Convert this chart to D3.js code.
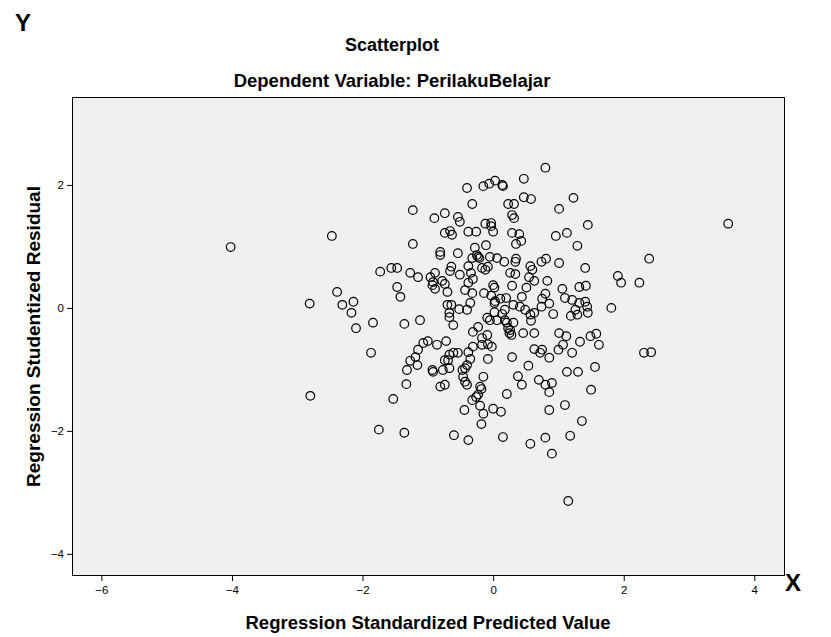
<!DOCTYPE html>
<html>
<head>
<meta charset="utf-8">
<script src="https://cdn.jsdelivr.net/npm/d3@7"></script>
<style>
  html, body { margin: 0; padding: 0; background: #fff; }
  svg { display: block; font-family: Arial, "Liberation Sans", sans-serif; }
</style>
</head>
<body>
<svg id="chart" width="831" height="637"></svg>
<script>
// Regression Standardized Predicted Value (x) and Studentized Residual (y)
const predicted = [
  -1.23,-0.90,-2.47,-1.23,
  -0.40,-0.15,-0.06,0.03,0.14,0.15,0.47,-0.32,0.23,0.32,0.47,0.58,-0.74,-0.54,-0.51,-0.74,
  -0.66,-0.63,-0.38,-0.26,-0.12,-0.03,-0.03,0.00,0.29,0.32,0.29,0.40,0.43,0.35,-0.11,-0.28,
  -0.81,-0.81,-0.54,-0.25,-0.23,-0.21,-0.32,-0.05,0.06,0.17,0.34,0.35,0.57,0.60,0.74,-0.64,
  -0.38,-0.17,-0.08,-0.12,
  0.80,1.23,1.01,1.45,0.96,1.13,1.29,0.81,1.01,1.41,2.39,
  -0.78,-0.74,-0.70,-0.66,-0.51,-0.34,-0.31,-0.38,-0.43,-0.32,-0.14,0.00,0.02,-0.03,0.11,
  0.02,0.03,0.20,0.29,0.26,0.34,0.51,0.44,0.55,0.63,0.75,0.74,0.31,0.41,0.49,0.57,0.63,
  0.58,0.18,0.14,0.02,0.06,-0.05,-0.09,0.18,0.21,0.31,0.23,0.25,0.28,0.26,-0.70,-0.64,
  -0.67,-0.67,-0.61,-0.52,-0.40,-0.35,-0.23,-0.31,-0.17,-0.09,-0.08,-0.02,-0.17,-0.31,
  -0.38,-0.35,-0.40,-0.43,-0.47,-0.46,-0.43,-0.54,-0.61,-0.67,-0.69,-0.74,-0.67,-0.77,
  -0.72,-0.86,-0.08,0.29,0.46,0.63,0.63,0.75,0.72,0.54,0.38,-0.15,-0.20,0.44,0.70,-0.74,
  0.83,1.91,1.96,2.24,1.06,1.32,1.42,0.80,1.10,1.21,1.32,1.41,1.44,1.26,1.29,1.19,1.45,
  0.86,0.92,1.81,1.01,1.12,1.49,1.58,1.62,1.33,1.07,1.00,1.21,0.86,2.31,2.42,1.56,1.13,
  1.30,0.90,0.80,1.50,
  -1.73,-1.56,-1.47,-1.27,-1.15,-0.96,-0.92,-0.89,-0.93,-0.89,-2.39,-2.31,-2.14,-2.17,
  -2.10,-1.84,-1.47,-1.42,-1.36,-1.12,-1.00,-1.07,-1.15,-1.19,-1.27,-1.16,-1.32,-0.93,
  -0.92,-1.33,-1.87,
  -1.53,-1.75,-1.36,-0.81,
  -0.40,-0.18,-0.23,-0.26,-0.32,-0.20,-0.15,-0.18,-0.44,0.00,0.12,0.21,-0.60,-0.38,0.15,
  0.57,0.80,
  0.86,0.86,1.10,1.36,1.18,0.90,1.15,
  -4.02,-2.81,-2.80,
  3.60
];
const residual = [
  1.59,1.46,1.17,1.04,
  1.95,1.98,2.02,2.07,2.00,1.98,2.10,1.69,1.69,1.69,1.80,1.77,1.54,1.48,1.40,1.22,
  1.25,1.19,1.24,1.24,1.37,1.38,1.33,1.24,1.51,1.46,1.22,1.20,1.09,1.04,1.02,0.98,
  0.91,0.86,0.89,0.86,0.83,0.81,0.81,0.83,0.81,0.75,0.75,0.80,0.68,0.62,0.75,0.67,
  0.68,0.65,0.67,0.62,
  2.28,1.79,1.61,1.35,1.17,1.22,1.01,0.80,0.73,0.65,0.80,
  0.44,0.39,0.26,0.60,0.54,0.57,0.47,0.41,0.29,0.24,0.24,0.37,0.33,0.20,0.15,
  0.08,0.11,0.16,0.36,0.57,0.55,0.33,0.18,0.50,0.44,0.15,0.02,0.05,0.02,-0.03,-0.11,-0.08,
  -0.21,-0.03,-0.10,-0.07,-0.20,-0.20,-0.16,-0.20,-0.24,-0.24,-0.33,-0.41,-0.44,-0.36,0.05,0.05,
  -0.08,-0.15,-0.28,-0.02,-0.03,0.08,-0.31,-0.39,-0.49,-0.44,-0.59,-0.63,-0.60,-0.63,
  -0.72,-0.83,-0.93,-0.98,-1.01,-1.12,-1.20,-0.73,-0.73,-0.76,-0.85,-0.85,-0.98,-1.01,
  -0.54,-0.60,-0.83,-0.80,-0.41,-0.41,-0.67,-0.68,-0.73,-0.94,-1.11,-1.12,-1.28,-1.25,-1.17,-1.25,
  0.44,0.52,0.41,0.41,0.31,0.34,0.36,0.23,0.16,0.13,0.08,0.10,0.02,-0.03,-0.11,-0.13,-0.08,
  0.07,-0.10,0.00,-0.41,-0.46,-0.46,-0.42,-0.60,-0.55,-0.60,-0.68,-0.73,-0.81,-0.73,-0.72,-0.96,-1.04,
  -1.04,-1.22,-1.25,-1.33,
  0.59,0.65,0.65,0.57,0.50,0.50,0.42,0.57,0.37,0.31,0.26,0.05,0.10,-0.08,
  -0.33,-0.24,0.34,0.18,-0.26,-0.20,-0.54,-0.57,-0.68,-0.80,-0.86,-0.93,-1.01,-1.01,
  -1.04,-1.24,-0.73,
  -1.48,-1.98,-2.03,-1.28,
  -1.25,-1.32,-1.41,-1.45,-1.50,-1.59,-1.72,-1.89,-1.66,-1.64,-1.69,-1.40,-2.07,-2.15,-2.10,
  -2.21,-2.11,
  -1.37,-1.66,-1.58,-1.84,-2.08,-2.37,-3.14,
  0.99,0.07,-1.43,
  1.37
];
const xTicks = [-6, -4, -2, 0, 2, 4];
const yTicks = [-4, -2, 0, 2];

const titleText = "Scatterplot";
const subtitleText = "Dependent Variable: PerilakuBelajar";
const xTitle = "Regression Standardized Predicted Value";
const yTitle = "Regression Studentized Residual";

const svg = d3.select("#chart");
const plot = { left: 72, top: 97, right: 785, bottom: 576 };

const x = d3.scaleLinear().domain([-6.45, 4.47]).range([plot.left, plot.right]);
const y = d3.scaleLinear().domain([-4.36, 3.43]).range([plot.bottom, plot.top]);

// plot background
svg.append("rect")
  .attr("x", plot.left).attr("y", plot.top)
  .attr("width", plot.right - plot.left).attr("height", plot.bottom - plot.top)
  .attr("fill", "#f0f0f0");

// axes
const xAxis = svg.append("g")
  .attr("transform", `translate(0,${plot.bottom})`)
  .call(d3.axisBottom(x).tickValues(xTicks).tickSize(5).tickSizeOuter(0).tickFormat(d3.format("d")));
const yAxis = svg.append("g")
  .attr("transform", `translate(${plot.left},0)`)
  .call(d3.axisLeft(y).tickValues(yTicks).tickSize(5).tickSizeOuter(0).tickFormat(d3.format("d")));
[xAxis, yAxis].forEach(g => {
  g.select(".domain").remove();
  g.selectAll("line").attr("stroke", "#000");
  g.selectAll("text").attr("fill", "#000").style("font-size", "11.5px")
    .style("font-family", "Arial, 'Liberation Sans', sans-serif");
});
xAxis.selectAll("text").attr("dy", "0.9em");

// points
svg.append("g")
  .selectAll("circle")
  .data(predicted.map((p, i) => [p, residual[i]]))
  .join("circle")
  .attr("cx", d => x(d[0]))
  .attr("cy", d => y(d[1]))
  .attr("r", 4.3)
  .attr("fill", "none")
  .attr("stroke", "#000")
  .attr("stroke-width", 1.2);

// frame
svg.append("rect")
  .attr("x", plot.left + 0.5).attr("y", plot.top + 0.5)
  .attr("width", plot.right - plot.left - 1).attr("height", plot.bottom - plot.top - 1)
  .attr("fill", "none").attr("stroke", "#000").attr("stroke-width", 1);

// titles
svg.append("text").attr("x", 392).attr("y", 51).attr("text-anchor", "middle")
  .style("font-size", "18px").style("font-weight", "bold").text(titleText);
svg.append("text").attr("x", 392).attr("y", 87).attr("text-anchor", "middle")
  .style("font-size", "18.5px").style("font-weight", "bold").text(subtitleText);
svg.append("text").attr("x", 428).attr("y", 629).attr("text-anchor", "middle")
  .style("font-size", "18.5px").style("font-weight", "bold").text(xTitle);
svg.append("text")
  .attr("transform", `translate(40,${(plot.top + plot.bottom) / 2}) rotate(-90)`)
  .attr("text-anchor", "middle")
  .style("font-size", "19px").style("font-weight", "bold").text(yTitle);

// corner letters
svg.append("text").attr("x", 15).attr("y", 31)
  .style("font-size", "24px").style("font-weight", "bold").text("Y");
svg.append("text").attr("x", 785).attr("y", 591)
  .style("font-size", "24px").style("font-weight", "bold").text("X");
</script>
</body>
</html>
